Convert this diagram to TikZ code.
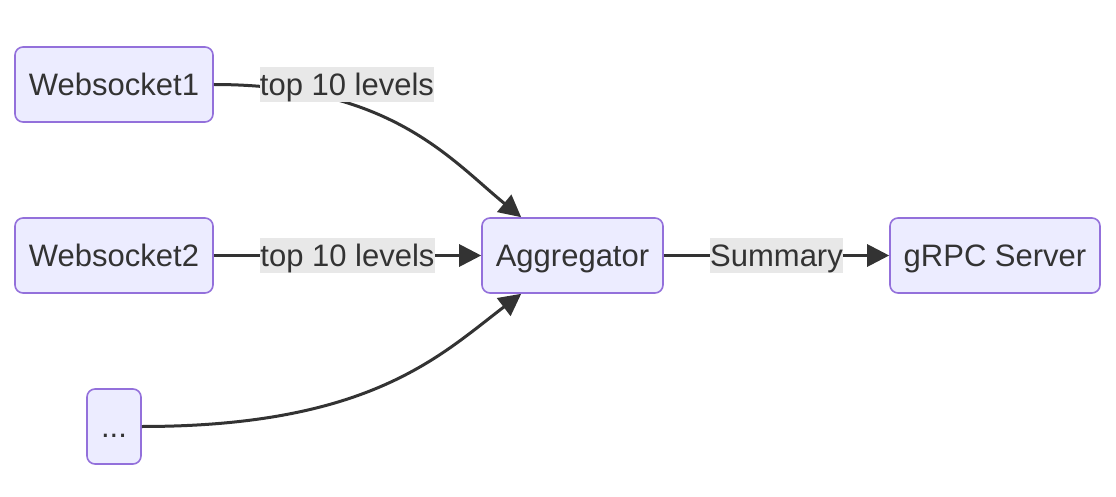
\documentclass[tikz,border=0pt]{standalone}
\usepackage{fontspec}
\setmainfont{Liberation Sans}
\usetikzlibrary{arrows.meta}
\definecolor{nodefill}{HTML}{ECECFF}
\definecolor{nodeline}{HTML}{9370DB}
\definecolor{edgecol}{HTML}{333333}
\definecolor{lblbg}{HTML}{E8E8E8}
\begin{document}
\begin{tikzpicture}[x=1pt,y=-1pt,
  txt/.style={text=edgecol, font=\fontsize{31}{37}\selectfont, text height=28pt, text depth=6.6pt},
  box/.style={txt, draw=nodeline, fill=nodefill, line width=1.6pt, rounded corners=8pt,
    minimum height=75pt, inner sep=0pt},
  lbl/.style={txt, fill=lblbg, inner sep=0pt, minimum height=35pt},
  edge/.style={draw=edgecol, line width=3pt, -{Triangle[length=22pt,width=22pt]}}]
\useasboundingbox (0,0) rectangle (1116,497);
\node[box, minimum width=198pt] (w1) at (114,84.5) {Websocket1};
\node[box, minimum width=198pt] (w2) at (114,255.5) {Websocket2};
\node[box, minimum width=54pt] (dots) at (114,426.5) {...};
\node[box, minimum width=181pt] (agg) at (572.5,255.5) {Aggregator};
\node[box, minimum width=210pt] (grpc) at (995,255.5) {gRPC Server};
\draw[edge] (w1.east) .. controls (390,84.5) and (450,159) .. ([xshift=40pt]agg.north west);
\node[lbl] (l1) at (347,84.5) {top 10 levels};
\draw[edge] (w2.east) -- node[lbl] (l2) {top 10 levels} (agg.west);
\draw[edge] (dots.east) .. controls (370,426.5) and (440,355.5) .. ([xshift=40pt]agg.south west);
\draw[edge] (agg.east) -- node[lbl] (l3) {Summary} (grpc.west);
\end{tikzpicture}
\end{document}
